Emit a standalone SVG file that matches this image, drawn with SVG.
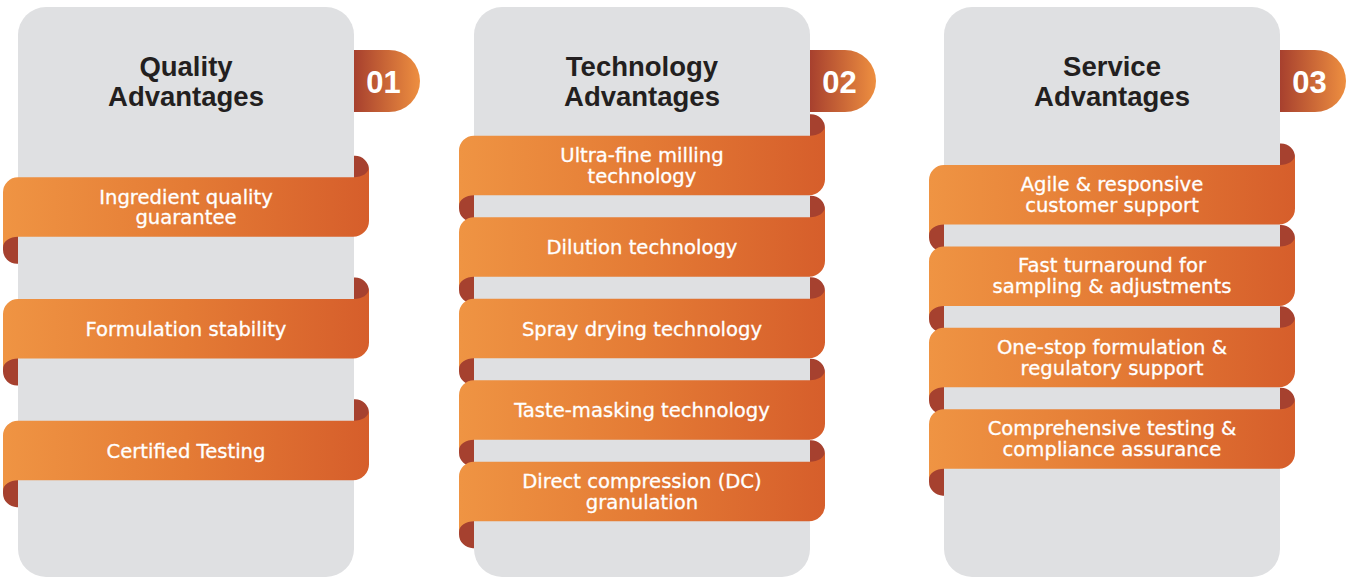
<svg xmlns="http://www.w3.org/2000/svg" xmlns:xlink="http://www.w3.org/1999/xlink" width="1362" height="578" viewBox="0 0 1362 578">
<defs>
<linearGradient id="gBand" x1="0" y1="0" x2="1" y2="0">
<stop offset="0" stop-color="#ef9443"/>
<stop offset="0.5" stop-color="#e47b35"/>
<stop offset="1" stop-color="#d65e2b"/>
</linearGradient>
<linearGradient id="gBadge" x1="0" y1="0" x2="1" y2="0">
<stop offset="0" stop-color="#a7402e"/>
<stop offset="1" stop-color="#ee8f40"/>
</linearGradient>
<path id="band" d="M-15,15 A15,15 0 0 1 0,0 H336 C344,0 351,-4 351,-11 V43.5 A16,16 0 0 1 335,59.5 H0 C-8,59.5 -15,63.5 -15,70.5 Z" fill="url(#gBand)"/>
<path id="backR" d="M336,20 V-21.5 H337 A14,14 0 0 1 351,-7.5 V20 Z" fill="#a6412f"/>
<path id="backL" d="M0,40 V86.5 H-1 A14,14 0 0 1 -15,72.5 V40 Z" fill="#a6412f"/>
</defs>
<style>
.panel{fill:#dfe0e2}
.title{font-family:"Liberation Sans",Arial,sans-serif;font-weight:bold;font-size:27.5px;fill:#231f20;text-anchor:middle}
.num{font-family:"Liberation Sans",Arial,sans-serif;font-weight:bold;font-size:31px;fill:#ffffff;text-anchor:middle}
.lbl{font-family:"DejaVu Sans",sans-serif;font-size:19.6px;fill:#ffffff;text-anchor:middle;stroke:#ffffff;stroke-width:0.3}
</style>
<rect width="1362" height="578" fill="#ffffff"/>

<g id="panel-quality">
<rect class="panel" x="18" y="7" width="336" height="570" rx="28"/>
<text class="title" x="186" y="76">Quality<tspan x="186" y="106">Advantages</tspan></text>
</g>
<g id="panel-technology">
<rect class="panel" x="474" y="7" width="336" height="570" rx="28"/>
<text class="title" x="642" y="76">Technology<tspan x="642" y="106">Advantages</tspan></text>
</g>
<g id="panel-service">
<rect class="panel" x="944" y="7" width="336" height="570" rx="28"/>
<text class="title" x="1112" y="76">Service<tspan x="1112" y="106">Advantages</tspan></text>
</g>

<g id="badge-01">
<path d="M354,50 H389 A31,31 0 0 1 389,112 H354 Z" fill="url(#gBadge)"/>
<text class="num" x="383.5" y="92.5">01</text>
</g>
<g id="badge-02">
<path d="M810,50 H845 A31,31 0 0 1 845,112 H810 Z" fill="url(#gBadge)"/>
<text class="num" x="839.5" y="92.5">02</text>
</g>
<g id="badge-03">
<path d="M1280,50 H1315 A31,31 0 0 1 1315,112 H1280 Z" fill="url(#gBadge)"/>
<text class="num" x="1309.5" y="92.5">03</text>
</g>

<g id="q1" transform="translate(18,177.3)">
<use xlink:href="#backR"/><use xlink:href="#backL"/><use xlink:href="#band"/>
<text class="lbl" x="168" y="26.3">Ingredient quality<tspan x="168" y="47">guarantee</tspan></text>
</g>
<g id="q2" transform="translate(18,299)">
<use xlink:href="#backR"/><use xlink:href="#backL"/><use xlink:href="#band"/>
<text class="lbl" x="168" y="37">Formulation stability</text>
</g>
<g id="q3" transform="translate(18,420.7)">
<use xlink:href="#backR"/><use xlink:href="#backL"/><use xlink:href="#band"/>
<text class="lbl" x="168" y="37">Certified Testing</text>
</g>

<g id="t1" transform="translate(474,135.7)">
<use xlink:href="#backR"/><use xlink:href="#backL"/><use xlink:href="#band"/>
<text class="lbl" x="168" y="26.3">Ultra-fine milling<tspan x="168" y="47">technology</tspan></text>
</g>
<g id="t2" transform="translate(474,217.2)">
<use xlink:href="#backR"/><use xlink:href="#backL"/><use xlink:href="#band"/>
<text class="lbl" x="168" y="37">Dilution technology</text>
</g>
<g id="t3" transform="translate(474,298.7)">
<use xlink:href="#backR"/><use xlink:href="#backL"/><use xlink:href="#band"/>
<text class="lbl" x="168" y="37">Spray drying technology</text>
</g>
<g id="t4" transform="translate(474,380.2)">
<use xlink:href="#backR"/><use xlink:href="#backL"/><use xlink:href="#band"/>
<text class="lbl" x="168" y="37">Taste-masking technology</text>
</g>
<g id="t5" transform="translate(474,461.7)">
<use xlink:href="#backR"/><use xlink:href="#backL"/><use xlink:href="#band"/>
<text class="lbl" x="168" y="26.3">Direct compression (DC)<tspan x="168" y="47">granulation</tspan></text>
</g>

<g id="s1" transform="translate(944,165)">
<use xlink:href="#backR"/><use xlink:href="#backL"/><use xlink:href="#band"/>
<text class="lbl" x="168" y="26">Agile &amp; responsive<tspan x="168" y="47">customer support</tspan></text>
</g>
<g id="s2" transform="translate(944,246.4)">
<use xlink:href="#backR"/><use xlink:href="#backL"/><use xlink:href="#band"/>
<text class="lbl" x="168" y="26">Fast turnaround for<tspan x="168" y="47">sampling &amp; adjustments</tspan></text>
</g>
<g id="s3" transform="translate(944,327.8)">
<use xlink:href="#backR"/><use xlink:href="#backL"/><use xlink:href="#band"/>
<text class="lbl" x="168" y="26">One-stop formulation &amp;<tspan x="168" y="47">regulatory support</tspan></text>
</g>
<g id="s4" transform="translate(944,409.2)">
<use xlink:href="#backR"/><use xlink:href="#backL"/><use xlink:href="#band"/>
<text class="lbl" x="168" y="26">Comprehensive testing &amp;<tspan x="168" y="47">compliance assurance</tspan></text>
</g>

<g id="connectors"/>
</svg>
